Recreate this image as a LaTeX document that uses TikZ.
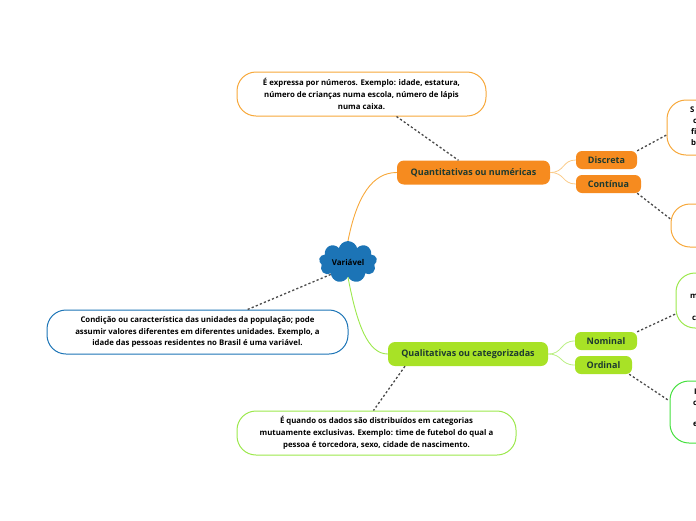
\documentclass[tikz,border=0pt]{standalone}
\usepackage{fontspec}
\setmainfont{Open Sans}
\usetikzlibrary{shapes.symbols}

\definecolor{varblue}{HTML}{1C74B6}
\definecolor{quantorange}{HTML}{F68B1F}
\definecolor{orangeline}{HTML}{F7A83A}
\definecolor{qualgreen}{HTML}{A8E226}
\definecolor{greenline}{HTML}{9CE84C}
\definecolor{ordgreen}{HTML}{45E03E}
\definecolor{labeldark}{HTML}{1D3A30}
\definecolor{linkgray}{HTML}{4A4A4A}

\tikzset{
  descbox/.style={draw, line width=1pt, fill=white, rounded corners=19pt, align=center,
    font=\fontsize{7.8}{11.8}\selectfont\bfseries, text=black, inner sep=2pt},
  topicbox/.style={rounded corners=7pt, font=\fontsize{9}{10}\selectfont\bfseries,
    text=labeldark, inner sep=0pt, minimum height=24},
  subbox/.style={topicbox, rounded corners=6pt, minimum height=18},
  cutletter/.style={anchor=west, inner sep=0pt, font=\fontsize{7.8}{8}\selectfont\bfseries},
  link/.style={draw=linkgray, line width=1.3pt, dash pattern=on 2.2pt off 2.2pt},
}

\begin{document}
\begin{tikzpicture}[x=1pt, y=-1pt]

  %% ════ centro ════
  \node[cloud, cloud puffs=9, aspect=1.45, fill=varblue, inner sep=0pt,
        minimum width=58, minimum height=40, font=\fontsize{8}{9}\selectfont\bfseries]
        (varia) at (348,262) {Variável};

  %% ════ tópicos ════
  \node[topicbox, fill=quantorange, minimum width=153] (quant) at (473.5,172.5) {Quantitativas ou numéricas};
  \node[topicbox, fill=qualgreen, minimum width=160] (qual) at (468,354) {Qualitativas ou categorizadas};

  \node[subbox, fill=quantorange, minimum width=61] (discreta) at (606.5,160) {Discreta};
  \node[subbox, fill=quantorange, minimum width=65] (continua) at (608.5,184) {Contínua};
  \node[subbox, fill=qualgreen, minimum width=62] (nominal) at (606,341) {Nominal};
  \node[subbox, fill=qualgreen, minimum width=57] (ordinal) at (603.5,365) {Ordinal};

  %% ════ ramos ════
  \draw[orangeline, line width=0.9pt] (varia.north) .. controls (357,195) and (373,172.5) .. (quant.west);
  \draw[greenline, line width=0.9pt] (varia.south) .. controls (357,325) and (368,354) .. (qual.west);
  \draw[orangeline!60, line width=0.8pt] (quant.east) .. controls (565,172.5) and (562,160) .. (discreta.west);
  \draw[orangeline!60, line width=0.8pt] (quant.east) .. controls (565,172.5) and (562,184) .. (continua.west);
  \draw[greenline!70, line width=0.8pt] (qual.east) .. controls (563,354) and (560,341) .. (nominal.west);
  \draw[greenline!70, line width=0.8pt] (qual.east) .. controls (563,354) and (560,365) .. (ordinal.west);

  %% ════ notas ════
  \node[descbox, draw=orangeline, minimum width=249, minimum height=44] (quantdesc) at (361.5,94)
    {É expressa por números. Exemplo: idade, estatura,\\número de crianças numa escola, número de lápis\\numa caixa.};
  \node[descbox, draw=varblue, minimum width=301, minimum height=44] (variadesc) at (197.5,332)
    {Condição ou característica das unidades da população; pode\\assumir valores diferentes em diferentes unidades. Exemplo, a\\idade das pessoas residentes no Brasil é uma variável.};
  \node[descbox, draw=greenline, minimum width=279, minimum height=44] (qualdesc) at (376.5,433)
    {É quando os dados são distribuídos em categorias\\mutuamente exclusivas. Exemplo: time de futebol do qual a\\pessoa é torcedora, sexo, cidade de nascimento.};

  % cortadas pela borda direita
  \node[descbox, draw=orangeline, minimum width=120, minimum height=55] (discdesc) at (727,127.5) {};
  \node[descbox, draw=orangeline, minimum width=120, minimum height=43] (contdesc) at (731,225.5) {};
  \node[descbox, draw=greenline, minimum width=120, minimum height=55] (nomdesc) at (736,300.5) {};
  \node[descbox, draw=ordgreen, minimum width=120, minimum height=62] (orddesc) at (730,412) {};

  \node[cutletter] (disc1) at (690,110) {S};
  \node[cutletter] (disc2) at (693,121) {c};
  \node[cutletter] (disc3) at (691,132) {fi};
  \node[cutletter] (disc4) at (691,143) {b};
  \node[cutletter] (nom1) at (690,296) {m};
  \node[cutletter] (nom2) at (692,318) {c};
  \node[cutletter] (ord1) at (694,392) {I};
  \node[cutletter] (ord2) at (693,403) {c};
  \node[cutletter] (ord3) at (693,424) {e};

  %% ════ ligações tracejadas ════
  \draw[link] ([xshift=35pt]quantdesc.south) -- ([xshift=-15pt]quant.north);
  \draw[link] (varia.south west) -- ([xshift=50pt]variadesc.north);
  \draw[link] ([xshift=-63pt]qual.south) -- ([xshift=-3pt]qualdesc.north);
  \draw[link] (discreta.north east) -- ([yshift=-7.5pt]discdesc.west);
  \draw[link] ([xshift=-4pt]continua.south east) -- ([yshift=6.5pt]contdesc.west);
  \draw[link] (nominal.north east) -- ([yshift=-13.5pt]nomdesc.west);
  \draw[link] ([xshift=-3pt]ordinal.south east) -- ([yshift=11pt]orddesc.west);

  \pgfresetboundingbox
  \path[use as bounding box] (0,0) rectangle (696,520);
\end{tikzpicture}
\end{document}
